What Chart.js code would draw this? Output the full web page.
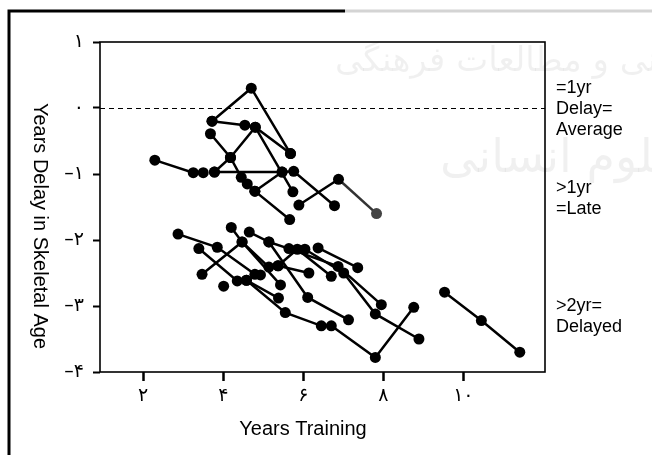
<!DOCTYPE html>
<html>
<head>
<meta charset="utf-8">
<script src="https://cdn.jsdelivr.net/npm/chart.js@4.4.1/dist/chart.umd.min.js"></script>
<style>
  html, body { margin: 0; padding: 0; background: #fff; }
  #wrap { width: 652px; height: 455px; }
</style>
</head>
<body>
<div id="wrap"><canvas id="chart" width="652" height="455"></canvas></div>
<script>
// x = years of training, y = years of delay in skeletal age (one array per athlete)
const athlete01 = [[3.72, -0.20], [4.70, 0.30], [5.68, -0.69]];
const athlete02 = [[3.72, -0.20], [4.54, -0.26], [4.80, -0.29], [5.68, -0.69]];
const athlete03 = [[3.68, -0.39], [4.18, -0.75], [4.45, -1.05], [4.60, -1.15], [4.79, -1.26], [5.66, -1.69]];
const athlete04 = [[3.78, -0.97], [4.18, -0.75], [4.80, -0.29], [5.74, -1.27]];
const athlete05 = [[2.29, -0.79], [3.25, -0.98], [3.50, -0.98]];
const athlete06 = [[3.78, -0.97], [5.47, -0.97], [5.76, -0.96], [6.78, -1.48]];
const athlete07 = [[4.79, -1.26], [5.47, -0.97]];
const athlete08 = [[5.89, -1.47], [6.88, -1.08], [7.83, -1.60]];
const athlete09 = [[2.87, -1.91], [3.85, -2.11], [4.79, -2.52], [4.93, -2.53]];
const athlete10 = [[3.39, -2.13], [4.35, -2.62], [4.58, -2.61], [5.38, -2.88]];
const athlete11 = [[3.47, -2.52], [4.47, -2.03], [5.14, -2.41], [5.37, -2.39], [6.14, -2.50]];
const athlete12 = [[4.20, -1.81], [4.47, -2.03], [5.43, -2.68]];
const athlete13 = [[4.65, -1.88], [5.14, -2.03], [6.11, -2.87], [7.13, -3.21]];
const athlete14 = [[5.14, -2.03], [5.64, -2.13], [6.87, -2.40], [7.95, -2.98]];
const athlete15 = [[5.37, -2.39], [5.85, -2.14], [6.70, -2.55]];
const athlete16 = [[6.04, -2.14], [7.01, -2.50], [7.80, -3.12], [8.89, -3.50]];
const athlete17 = [[6.37, -2.12], [7.36, -2.42]];
const athlete18 = [[4.58, -2.61], [5.55, -3.10], [6.45, -3.30], [6.70, -3.30], [7.80, -3.78], [8.76, -3.02]];
const athlete19 = [[4.01, -2.70]];
const athlete20 = [[9.53, -2.79], [10.45, -3.22], [11.41, -3.70]];

const athletes = [athlete01, athlete02, athlete03, athlete04, athlete05, athlete06, athlete07,
    athlete08, athlete09, athlete10, athlete11, athlete12, athlete13, athlete14, athlete15,
    athlete16, athlete17, athlete18, athlete19, athlete20];

const xTickValues = [2, 4, 6, 8, 10];
const xTickLabels = ['۲', '۴', '۶', '۸', '۱۰'];
const yTickValues = [1, 0, -1, -2, -3, -4];
const yTickLabels = ['۱', '۰', '–۱', '–۲', '–۳', '–۴'];

const bandLabels = [
    { lines: ['=1yr', 'Delay=', 'Average'], y: 88 },
    { lines: ['>1yr', '=Late'], y: 188 },
    { lines: ['>2yr=', 'Delayed'], y: 306 },
];

const latinFont = '"Liberation Sans", Arial, sans-serif';
const digitFont = '"DejaVu Sans", sans-serif';

const datasets = athletes.map(pts => ({
    data: pts.map(([x, y]) => ({ x, y })),
    showLine: true,
    borderColor: '#000',
    borderWidth: 2.5,
    pointRadius: 5.5,
    pointBackgroundColor: '#000',
    pointBorderWidth: 0,
    tension: 0,
}));
// last point of athlete08 is printed grey in the source
datasets[7].pointBackgroundColor = ['#000', '#000', '#444'];
datasets[7].segment = { borderColor: c => c.p1DataIndex === 2 ? '#333' : '#000' };

const decor = {
    id: 'decor',
    beforeDraw(chart) {
        const ctx = chart.ctx;
        ctx.save();
        // faint watermark
        ctx.fillStyle = 'rgba(0,0,0,0.06)';
        ctx.direction = 'rtl';
        ctx.textAlign = 'left';
        ctx.textBaseline = 'middle';
        ctx.font = '34px "DejaVu Sans"';
        ctx.fillText('پژوهشگاه علوم انسانی و مطالعات فرهنگی', 335, 62);
        ctx.font = '46px "DejaVu Sans"';
        ctx.fillText('پرتال جامع علوم انسانی', 440, 160);
        ctx.restore();

        // outer frame of the figure
        ctx.save();
        ctx.lineWidth = 3;
        ctx.strokeStyle = '#000';
        ctx.beginPath();
        ctx.moveTo(9, 455);
        ctx.lineTo(9, 11);
        ctx.lineTo(345, 11);
        ctx.stroke();
        ctx.strokeStyle = '#d4d4d4';
        ctx.beginPath();
        ctx.moveTo(345, 11);
        ctx.lineTo(652, 11);
        ctx.stroke();
        ctx.restore();
    },
    beforeDatasetsDraw(chart) {
        const { ctx, chartArea: a, scales } = chart;
        ctx.save();
        const y0 = Math.round(scales.y.getPixelForValue(0)) + 0.5;
        ctx.strokeStyle = '#000';
        ctx.lineWidth = 1;
        ctx.setLineDash([5, 4]);
        ctx.beginPath();
        ctx.moveTo(a.left, y0);
        ctx.lineTo(a.right, y0);
        ctx.stroke();
        ctx.setLineDash([]);
        ctx.lineWidth = 1.6;
        ctx.strokeRect(a.left, a.top, a.right - a.left, a.bottom - a.top);
        ctx.restore();
    },
    afterDraw(chart) {
        const ctx = chart.ctx;
        ctx.save();
        ctx.fillStyle = '#000';
        ctx.textBaseline = 'middle';
        ctx.textAlign = 'center';
        ctx.font = '20px ' + latinFont;
        ctx.fillText('Years Training', 303, 429);

        ctx.translate(40, 226);
        ctx.rotate(Math.PI / 2);
        ctx.fillText('Years Delay in Skeletal Age', 0, 0);
        ctx.restore();

        ctx.save();
        ctx.fillStyle = '#000';
        ctx.textBaseline = 'middle';
        ctx.textAlign = 'left';
        ctx.font = '18px ' + latinFont;
        bandLabels.forEach(b => {
            b.lines.forEach((t, i) => ctx.fillText(t, 556, b.y + i * 21));
        });
        ctx.restore();
    }
};

new Chart(document.getElementById('chart'), {
    type: 'scatter',
    data: { datasets },
    options: {
        responsive: false,
        animation: false,
        layout: { padding: { top: 42, right: 107, left: 0, bottom: 0 } },
        plugins: { legend: { display: false }, tooltip: { enabled: false } },
        scales: {
            x: {
                type: 'linear',
                min: 0.92,
                max: 12.04,
                afterBuildTicks: s => { s.ticks = xTickValues.map(v => ({ value: v })); },
                afterFit: s => { s.height = 83; },
                ticks: {
                    callback: v => xTickLabels[xTickValues.indexOf(v)],
                    font: { size: 19, family: digitFont },
                    color: '#000',
                    padding: 4,
                    maxRotation: 0,
                    autoSkip: false,
                },
                grid: { drawOnChartArea: false, tickLength: 9, tickWidth: 2.5, tickColor: '#000' },
                border: { display: false },
            },
            y: {
                type: 'linear',
                min: -4,
                max: 1,
                afterBuildTicks: s => { s.ticks = yTickValues.map(v => ({ value: v })); },
                afterFit: s => { s.width = 100; },
                ticks: {
                    callback: v => yTickLabels[yTickValues.indexOf(v)],
                    font: { size: 19, family: digitFont },
                    color: '#000',
                    padding: 9,
                    autoSkip: false,
                },
                grid: { drawOnChartArea: false, tickLength: 7, tickWidth: 2, tickColor: '#000' },
                border: { display: false },
            },
        },
    },
    plugins: [decor],
});
</script>
</body>
</html>
